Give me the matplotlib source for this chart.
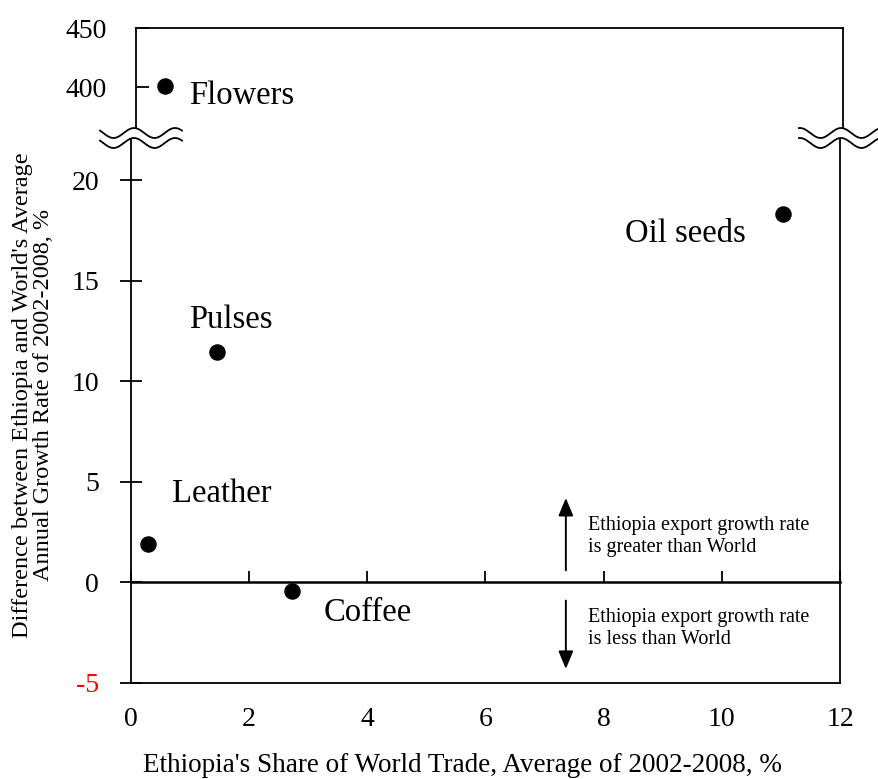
import numpy as np
import matplotlib
matplotlib.use("Agg")
import matplotlib.pyplot as plt

plt.rcParams['font.family'] = ['Liberation Serif', 'DejaVu Serif']
plt.rcParams['axes.unicode_minus'] = False

# ---- data ----
products = ["Flowers", "Oil seeds", "Pulses", "Leather", "Coffee"]
share = [0.5, 11.04, 1.46, 0.29, 2.73]          # Ethiopia's share of world trade, %
growth_diff = [401, 18.3, 11.45, 1.9, -0.45]    # growth difference, %
x_ticks = [0, 2, 4, 6, 8, 10, 12]
y_ticks_low = [-5, 0, 5, 10, 15, 20]
y_ticks_high = [400, 450]

W, H = 879, 779
fig = plt.figure(figsize=(W / 100, H / 100), dpi=100)

def rect(l, r, t, b):
    return [l / W, 1 - b / H, (r - l) / W, (b - t) / H]

ax_top = fig.add_axes(rect(136, 843, 28, 138))
ax = fig.add_axes(rect(131, 840, 138, 683))

# label placement (offset pixels, alignment)
label_style = {
    "Flowers": ((24, -10), "left"),
    "Oil seeds": ((-38, -19), "right"),
    "Pulses": ((14, 32), "center"),
    "Leather": ((24, 50), "left"),
    "Coffee": ((31, -21), "left"),
}

lw = 1.3
for a in (ax, ax_top):
    a.set_xlim(0, 12)
    for s in a.spines.values():
        s.set_linewidth(lw)

ax_top.set_ylim(357, 450)
ax.set_ylim(-5, 22.1)

# top axes styling
ax_top.spines['bottom'].set_visible(False)
ax_top.set_xticks([])
ax_top.set_yticks(y_ticks_high)
ax_top.tick_params(axis='y', direction='in', length=9, width=lw, pad=21, labelsize=20)

# bottom axes styling
ax.spines['top'].set_visible(False)
ax.set_yticks(y_ticks_low)
ax.tick_params(axis='y', direction='inout', length=16, width=lw, pad=15, labelsize=20)
ax.set_xticks(x_ticks)
ax.tick_params(axis='x', length=0, pad=17, labelsize=20)
ax.get_yticklabels()[0].set_color('red')

# zero line with upward ticks
ylo, yhi = ax.get_ylim()
sec = ax.secondary_xaxis((0 - ylo) / (yhi - ylo))
sec.set_xticks(x_ticks)
sec.tick_params(axis='x', direction='in', length=8, width=lw, labelbottom=False)
sec.spines['bottom'].set_linewidth(1.8)

# points
for p, x, y in zip(products, share, growth_diff):
    a = ax_top if y > 300 else ax
    a.scatter([x], [y], s=118, color='black', zorder=5, clip_on=False)
    off, ha = label_style[p]
    a.annotate(p, (x, y), xytext=off, textcoords='offset pixels', ha=ha, va='center',
               fontsize=23.5)

# arrows and notes
arrow_x = 7.36
aprops = dict(arrowstyle='-|>,head_length=0.6,head_width=0.25', color='black', lw=1.4,
              mutation_scale=18, shrinkA=0, shrinkB=0)
ax.annotate("", xy=(arrow_x, 4.2), xytext=(arrow_x, 0.6), arrowprops=aprops)
ax.annotate("", xy=(arrow_x, -4.3), xytext=(arrow_x, -0.9), arrowprops=aprops)
ax.text(7.73, 2.29, "Ethiopia export growth rate\nis greater than World", ha='left', va='center',
        fontsize=14.5, linespacing=1.25)
ax.text(7.73, -2.29, "Ethiopia export growth rate\nis less than World", ha='left', va='center',
        fontsize=14.5, linespacing=1.25)

# axis titles
fig.text(462 / W, 1 - 765 / H, "Ethiopia's Share of World Trade, Average of 2002-2008, %",
         ha='center', va='center', fontsize=19.5)
fig.text(33 / W, 1 - 395 / H, "Difference between Ethiopia and World's Average\nAnnual Growth Rate of 2002-2008, %",
         ha='center', va='center', rotation=90, fontsize=17.5, linespacing=1.0)

# axis break marks (overlay in pixel space)
ov = fig.add_axes([0, 0, 1, 1], zorder=10)
ov.set_xlim(0, W)
ov.set_ylim(H, 0)
ov.axis('off')
ov.patch.set_alpha(0)
for xs, x0, x1 in ((134, 100, 182), (841, 799, 879)):
    xx = np.linspace(x0, x1, 200)
    up = 133 - 5 * np.cos(2 * np.pi * (xx - xs) / 41)
    lo = up + 10
    ov.fill_between(xx, up, lo, color='white', lw=0)
    ov.plot(xx, up, color='black', lw=1.3)
    ov.plot(xx, lo, color='black', lw=1.3)

fig.savefig("out.png", dpi=100)
